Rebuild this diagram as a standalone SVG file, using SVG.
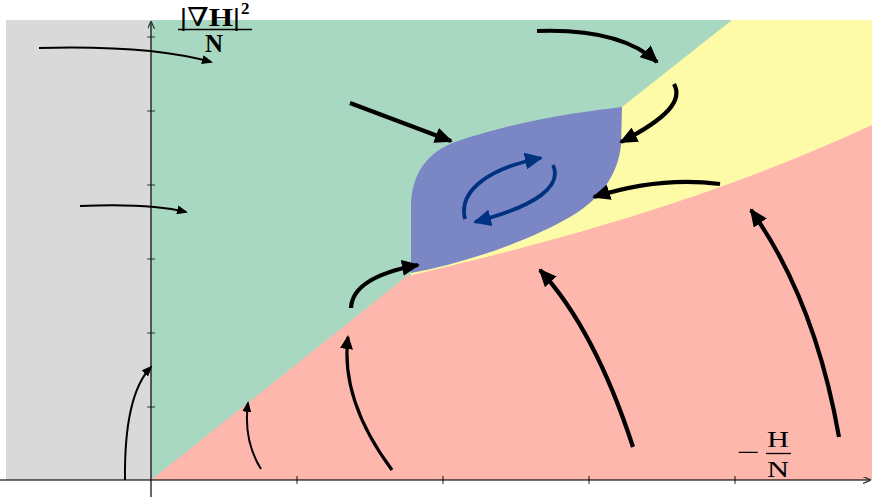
<svg xmlns="http://www.w3.org/2000/svg" width="872" height="497" viewBox="0 0 872 497">
<style>
.arr{fill:none;stroke:#000;stroke-linecap:butt}
.thin{stroke-width:2;marker-end:url(#hThin)}
.mid{stroke-width:3.2;marker-end:url(#hMid)}
.thick{stroke-width:4.2;marker-end:url(#hThick)}
.blue{fill:none;stroke:#003282;stroke-width:3.8;marker-end:url(#hBlue)}
.axis{stroke:#000;stroke-opacity:0.75;stroke-width:1.6;fill:none}
.tick{stroke:#000;stroke-opacity:0.75;stroke-width:1.2}
.lbl{font-family:"Liberation Serif","DejaVu Serif",serif;fill:#000}
</style>
<defs>
<marker id="hThin" markerUnits="userSpaceOnUse" viewBox="0 0 11 9" refX="9" refY="4.5" markerWidth="11" markerHeight="9" orient="auto"><path d="M0,0 L11,4.5 L0,9 Z" fill="#000"/></marker>
<marker id="hMid" markerUnits="userSpaceOnUse" viewBox="0 0 14 13" refX="12" refY="6.5" markerWidth="14" markerHeight="13" orient="auto"><path d="M0,0 L14,6.5 L0,13 Z" fill="#000"/></marker>
<marker id="hThick" markerUnits="userSpaceOnUse" viewBox="0 0 18 16" refX="16" refY="8" markerWidth="18" markerHeight="16" orient="auto"><path d="M0,0 L18,8 L0,16 Z" fill="#000"/></marker>
<marker id="hBlue" markerUnits="userSpaceOnUse" viewBox="0 0 18 17" refX="16" refY="8.5" markerWidth="18" markerHeight="17" orient="auto"><path d="M0,0 L18,8.5 L0,17 Z" fill="#003282"/></marker>
<marker id="hAxis" markerUnits="userSpaceOnUse" viewBox="0 0 8 7" refX="7" refY="3.5" markerWidth="8" markerHeight="7" orient="auto"><path d="M0,0 L8,3.5 L0,7" fill="none" stroke="#1f3a2f" stroke-width="1.2"/></marker>
</defs>
<rect width="872" height="497" fill="#fff"/>
<g id="regions">
<rect id="green" x="6" y="20" width="866" height="460" fill="#a8d8c1"/>
<rect id="gray" x="6" y="20" width="145" height="460" fill="#d9d9d9"/>
<path id="yellow" d="M732,20 L872,20 L872,300 L405,290 L411,274 L411,205 L622,107 Z" fill="#fdfba7"/>
<path id="pink" d="M151,480 L407,276 C520,250 700,205 872,125 L872,480 Z" fill="#fdb7ad"/>
<path id="blueRegion" d="M411,273 L411,208 C411,175 426,153 455,142 C520,120 580,112 622,107 L621,145 C618,175 600,200 570,217 C530,240 470,262 411,273 Z" fill="#7b86c4"/>
</g>
<g id="axes">
<line class="axis" x1="0" y1="480" x2="870" y2="480" marker-end="url(#hAxis)"/>
<line class="axis" x1="151" y1="497" x2="151" y2="22" marker-end="url(#hAxis)"/>
<path class="tick" d="M147,37H155M147,111H155M147,185H155M147,259H155M147,333H155M147,407H155M297,476V484M443,476V484M589,476V484M735,476V484"/>
</g>
<g id="connectors">
<path class="arr thin" d="M39,48 Q150,45 211,62"/>
<path class="arr thin" d="M80,206 Q150,203 186,212"/>
<path class="arr thin" d="M125,480 Q124,395 151,367"/>
<path class="arr thin" d="M261,469 Q243,440 248,403"/>
<path class="arr mid" d="M392,470 Q340,400 348,337"/>
<path class="arr thick" d="M351,308 C352,285 380,272 418,265"/>
<path class="arr thick" d="M350,103 L451,141"/>
<path class="arr thick" d="M537,31 Q620,28 657,62"/>
<path class="arr thick" d="M674,84 C683,100 668,118 621,142"/>
<path class="arr thick" d="M720,184 Q660,176 594,197"/>
<path class="arr thick" d="M633,447 Q595,330 540,270"/>
<path class="arr thick" d="M839,437 Q815,300 751,210"/>
<path class="blue" d="M465,219 C458,190 490,168 541,158"/>
<path class="blue" d="M553,165 C562,185 540,205 475,222"/>
</g>
<g id="labels">
<g id="ylabel">
<text class="lbl" x="180" y="26" font-size="26" font-weight="bold" textLength="60" lengthAdjust="spacingAndGlyphs">|<tspan font-family="DejaVu Serif" font-weight="normal">∇</tspan>H|</text>
<text class="lbl" x="241" y="14" font-size="17" font-weight="bold">2</text>
<line x1="178" y1="29.5" x2="252" y2="29.5" stroke="#000" stroke-width="1.4"/>
<text class="lbl" x="214" y="52" font-size="25" font-weight="bold" text-anchor="middle">N</text>
</g>
<g id="xlabel">
<text class="lbl" x="737" y="461" font-size="26" textLength="23" lengthAdjust="spacingAndGlyphs">−</text>
<text class="lbl" x="767" y="447" font-size="24" textLength="22" lengthAdjust="spacingAndGlyphs">H</text>
<line x1="766" y1="453.5" x2="791" y2="453.5" stroke="#000" stroke-width="1.3"/>
<text class="lbl" x="767" y="477" font-size="24" textLength="22" lengthAdjust="spacingAndGlyphs">N</text>
</g>
</g>
</svg>
